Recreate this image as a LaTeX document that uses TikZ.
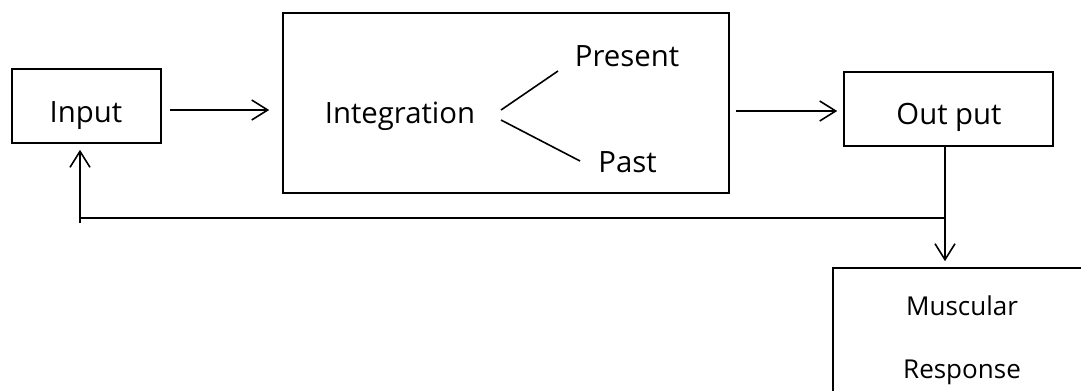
\documentclass[tikz,border=0pt]{standalone}
\usepackage{fontspec}
\setmainfont{Open Sans}
\usetikzlibrary{arrows.meta}
\tikzset{
  boxnode/.style={draw, line width=1.2pt, inner sep=0pt, rectangle},
  lbl/.style={anchor=base, inner sep=0pt, font=\fontsize{22}{26}\selectfont},
  smalllbl/.style={anchor=base, inner sep=0pt, font=\fontsize{19.5}{23}\selectfont},
  conn/.style={line width=1.2pt},
  arr/.style={line width=1.2pt, -{Straight Barb[length=12pt, width=15pt, line width=1.2pt]}},
}
\begin{document}
\begin{tikzpicture}[x=0.75pt, y=-0.75pt]
\useasboundingbox (0,0) rectangle (1081,390);
\clip (0,0) rectangle (1081,390);
\fill[white] (0,0) rectangle (1081,390);
% boxes
\node[boxnode, minimum width=111.75pt, minimum height=55.5pt] (inputbox) at (86.5,106) {};
\node[boxnode, minimum width=334.5pt, minimum height=135pt] (integbox) at (506,103) {};
\node[boxnode, minimum width=156.75pt, minimum height=55.5pt] (outbox) at (948.5,109) {};
\node[boxnode, minimum width=200.25pt, minimum height=114pt] (musbox) at (966.5,344) {};
% labels
\node[lbl] (inputlbl) at (86,122) {Input};
\node[lbl] (integlbl) at (400,123) {Integration};
\node[lbl] (presentlbl) at (627,66) {Present};
\node[lbl] (pastlbl) at (627.5,172) {Past};
\node[lbl] (outlbl) at (949,124) {Out put};
\node[smalllbl] (muslbl) at (962,315) {Muscular};
\node[smalllbl] (resplbl) at (962,378) {Response};
% branch lines
\coordinate (bu0) at (501,110);
\coordinate (bu1) at (558,71);
\coordinate (bl0) at (501,120);
\coordinate (bl1) at (580,161);
\draw[conn] (bu0) -- (bu1);
\draw[conn] (bl0) -- (bl1);
% main flow
\draw[arr, shorten <=6pt, shorten >=9.75pt] (inputbox.east |- 0,110) -- (integbox.west |- 0,110);
\draw[arr, shorten <=4.5pt, shorten >=4.5pt] (integbox.east |- 0,111) -- (outbox.west |- 0,111);
\coordinate (down) at (945,146);
\draw[arr, shorten >=4.5pt] (down) -- (down |- musbox.north);
% feedback
\coordinate (junc) at (945,218);
\coordinate (fb) at (80,223);
\draw[conn] (junc) -- (junc -| fb);
\draw[arr, shorten >=4.5pt] (fb) -- (fb |- inputbox.south);
\end{tikzpicture}
\end{document}
